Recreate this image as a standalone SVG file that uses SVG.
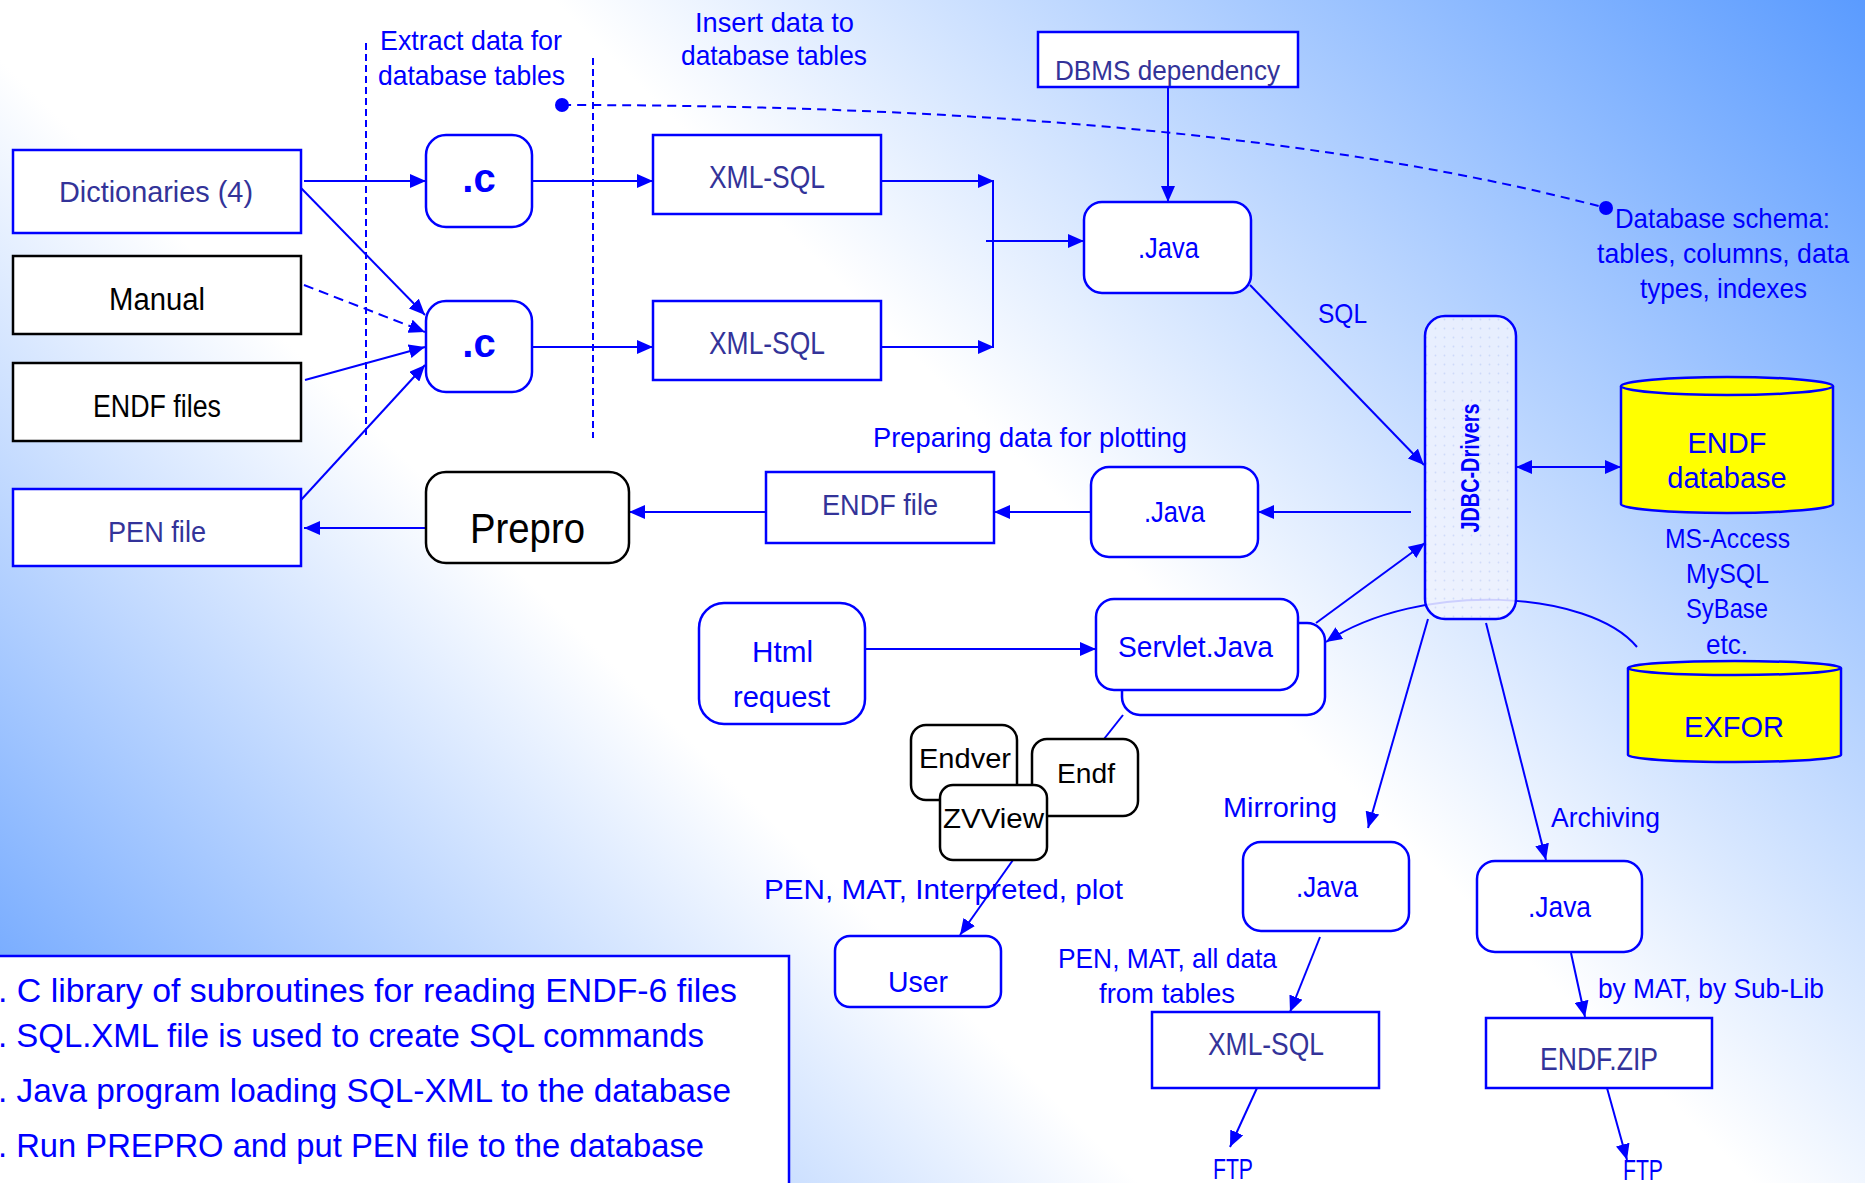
<svg xmlns="http://www.w3.org/2000/svg" width="1865" height="1183" viewBox="0 0 1865 1183">
<defs>
<linearGradient id="bg" gradientUnits="userSpaceOnUse" x1="1072" y1="-783" x2="-367" y2="676">
<stop offset="0" stop-color="#5a9bff"/>
<stop offset="0.45" stop-color="#ffffff"/>
<stop offset="0.66" stop-color="#ffffff"/>
<stop offset="1" stop-color="#6ea6ff"/>
</linearGradient>
<pattern id="dots" width="9" height="9" patternUnits="userSpaceOnUse">
<rect width="9" height="9" fill="#f0f3fe"/>
<circle cx="4.5" cy="4.5" r="0.9" fill="#d0daf8"/>
</pattern>
<marker id="ah" viewBox="0 0 16 14" refX="16" refY="7" markerWidth="16" markerHeight="14" orient="auto-start-reverse" markerUnits="userSpaceOnUse">
<path d="M0,0 L16,7 L0,14 z" fill="#0000ff"/>
</marker>
</defs>
<style>
.t{font-family:"Liberation Sans Narrow","Liberation Sans",Arial,sans-serif;}
.a{font-family:"Liberation Sans",Arial,sans-serif;}
.blue{fill:#0000ff;}
.slate{fill:#333399;}
.blk{fill:#000000;}
.bx{fill:#ffffff;stroke:#0000ff;stroke-width:2.5;}
.kx{fill:#ffffff;stroke:#000000;stroke-width:2.5;}
.cn{fill:none;stroke:#0000ff;stroke-width:2;}
.arr{marker-end:url(#ah);}
.cyl{fill:#ffff00;stroke:#0000ff;stroke-width:2.5;}
</style>
<rect x="0" y="0" width="1865" height="1183" fill="url(#bg)"/>

<g id="annotations">
<line x1="366" y1="43" x2="366" y2="438" stroke="#0000ff" stroke-width="2" stroke-dasharray="7 4"/>
<line x1="593" y1="58" x2="593" y2="438" stroke="#0000ff" stroke-width="2" stroke-dasharray="7 4"/>
<text class="t blue" x="380" y="50" font-size="28" textLength="182" lengthAdjust="spacingAndGlyphs">Extract data for</text>
<text class="t blue" x="378" y="85" font-size="28" textLength="187" lengthAdjust="spacingAndGlyphs">database tables</text>
<text class="t blue" x="695" y="32" font-size="28" textLength="159" lengthAdjust="spacingAndGlyphs">Insert data to</text>
<text class="t blue" x="681" y="65" font-size="28" textLength="186" lengthAdjust="spacingAndGlyphs">database tables</text>
<path d="M562,105 Q1216,105 1606,208" fill="none" stroke="#0000ff" stroke-width="2" stroke-dasharray="9 6"/>
<circle cx="562" cy="105" r="7" fill="#0000ff"/>
<circle cx="1606" cy="208" r="7" fill="#0000ff"/>
<text class="t blue" x="1615" y="228" font-size="28" textLength="215" lengthAdjust="spacingAndGlyphs">Database schema:</text>
<text class="t blue" x="1597" y="263" font-size="28" textLength="252" lengthAdjust="spacingAndGlyphs">tables, columns, data</text>
<text class="t blue" x="1640" y="298" font-size="28" textLength="167" lengthAdjust="spacingAndGlyphs">types, indexes</text>
<text class="t blue" x="1318" y="323" font-size="28" textLength="49" lengthAdjust="spacingAndGlyphs">SQL</text>
<text class="t blue" x="873" y="447" font-size="28" textLength="314" lengthAdjust="spacingAndGlyphs">Preparing data for plotting</text>
<text class="t blue" x="1665" y="548" font-size="28" textLength="125" lengthAdjust="spacingAndGlyphs">MS-Access</text>
<text class="t blue" x="1686" y="583" font-size="28" textLength="83" lengthAdjust="spacingAndGlyphs">MySQL</text>
<text class="t blue" x="1686" y="618" font-size="28" textLength="82" lengthAdjust="spacingAndGlyphs">SyBase</text>
<text class="t blue" x="1706" y="654" font-size="28" textLength="42" lengthAdjust="spacingAndGlyphs">etc.</text>
<text class="t blue" x="764" y="899" font-size="28" textLength="359" lengthAdjust="spacingAndGlyphs">PEN, MAT, Interpreted, plot</text>
<text class="t blue" x="1223" y="817" font-size="28" textLength="114" lengthAdjust="spacingAndGlyphs">Mirroring</text>
<text class="t blue" x="1551" y="827" font-size="28" textLength="109" lengthAdjust="spacingAndGlyphs">Archiving</text>
<text class="t blue" x="1058" y="968" font-size="28" textLength="219" lengthAdjust="spacingAndGlyphs">PEN, MAT, all data</text>
<text class="t blue" x="1099" y="1003" font-size="28" textLength="136" lengthAdjust="spacingAndGlyphs">from tables</text>
<text class="t blue" x="1598" y="998" font-size="28" textLength="226" lengthAdjust="spacingAndGlyphs">by MAT, by Sub-Lib</text>
<text class="t blue" x="1213" y="1179" font-size="29" textLength="40" lengthAdjust="spacingAndGlyphs">FTP</text>
<text class="t blue" x="1623" y="1180" font-size="29" textLength="40" lengthAdjust="spacingAndGlyphs">FTP</text>
</g>

<g id="connectors">
<path class="cn arr" d="M304,181 L426,181"/>
<path class="cn arr" d="M301,188 L425,315"/>
<path class="cn arr" d="M304,285 L425,332" stroke-dasharray="10 6"/>
<path class="cn arr" d="M305,380 L425,347"/>
<path class="cn arr" d="M301,500 L425,365"/>
<path class="cn arr" d="M532,181 L653,181"/>
<path class="cn arr" d="M532,347 L653,347"/>
<path class="cn arr" d="M881,181 L994,181"/>
<path class="cn arr" d="M881,347 L994,347"/>
<path class="cn" d="M993,181 L993,347"/>
<path class="cn arr" d="M986,241 L1084,241"/>
<path class="cn arr" d="M1168,87 L1168,202"/>
<path class="cn arr" d="M1250,285 L1424,465"/>
<path class="cn arr" d="M1411,512 L1258,512"/>
<path class="cn arr" d="M1091,512 L994,512"/>
<path class="cn arr" d="M766,512 L629,512"/>
<path class="cn arr" d="M426,528 L304,528"/>
<path class="cn arr" d="M865,649 L1096,649"/>
<path class="cn arr" d="M1316,623 L1425,543"/>
<path class="cn arr" d="M1637,647 C1590,590 1420,580 1326,642"/>
<path class="cn arr" d="M1428,619 L1368,828"/>
<path class="cn arr" d="M1486,623 L1546,860"/>
<path class="cn" d="M1123,715 L1104,739"/>
<path class="cn arr" d="M1013,860 L960,935"/>
<path class="cn arr" d="M1320,937 L1290,1012"/>
<path class="cn arr" d="M1257,1088 L1230,1147"/>
<path class="cn arr" d="M1571,953 L1585,1017"/>
<path class="cn arr" d="M1607,1088 L1627,1160"/>
<path class="cn" d="M1516,467 L1621,467" marker-start="url(#ah)" marker-end="url(#ah)"/>
</g>

<g id="dictionaries">
<rect class="bx" x="13" y="150" width="288" height="83"/>
<text class="t slate" x="59" y="202" font-size="30" textLength="194" lengthAdjust="spacingAndGlyphs">Dictionaries (4)</text>
</g>
<g id="manual">
<rect class="kx" x="13" y="256" width="288" height="78"/>
<text class="t blk" x="109" y="310" font-size="31" textLength="96" lengthAdjust="spacingAndGlyphs">Manual</text>
</g>
<g id="endf-files">
<rect class="kx" x="13" y="363" width="288" height="78"/>
<text class="t blk" x="93" y="417" font-size="31" textLength="128" lengthAdjust="spacingAndGlyphs">ENDF files</text>
</g>
<g id="pen-file">
<rect class="bx" x="13" y="489" width="288" height="77"/>
<text class="t slate" x="108" y="542" font-size="30" textLength="98" lengthAdjust="spacingAndGlyphs">PEN file</text>
</g>
<g id="c-top">
<rect class="bx" x="426" y="135" width="106" height="92" rx="20"/>
<text class="a blue" x="479" y="192" font-size="40" font-weight="bold" text-anchor="middle">.c</text>
</g>
<g id="c-bottom">
<rect class="bx" x="426" y="301" width="106" height="91" rx="20"/>
<text class="a blue" x="479" y="357" font-size="40" font-weight="bold" text-anchor="middle">.c</text>
</g>
<g id="xmlsql-top">
<rect class="bx" x="653" y="135" width="228" height="79"/>
<text class="t slate" x="709" y="188" font-size="31" textLength="116" lengthAdjust="spacingAndGlyphs">XML-SQL</text>
</g>
<g id="xmlsql-bottom">
<rect class="bx" x="653" y="301" width="228" height="79"/>
<text class="t slate" x="709" y="354" font-size="31" textLength="116" lengthAdjust="spacingAndGlyphs">XML-SQL</text>
</g>
<g id="dbms">
<rect class="bx" x="1038" y="32" width="260" height="55"/>
<text class="t slate" x="1055" y="80" font-size="28" textLength="225" lengthAdjust="spacingAndGlyphs">DBMS dependency</text>
</g>
<g id="java-load">
<rect class="bx" x="1084" y="202" width="167" height="91" rx="18"/>
<text class="t blue" x="1138" y="258" font-size="30" textLength="61" lengthAdjust="spacingAndGlyphs">.Java</text>
</g>
<g id="jdbc">
<rect x="1425" y="316" width="91" height="303" rx="20" fill="url(#dots)" fill-opacity="0.85" stroke="#0000ff" stroke-width="2.5"/>
<text class="a blue" transform="translate(1479,468) rotate(-90)" x="0" y="0" font-size="26" font-weight="bold" text-anchor="middle" textLength="129" lengthAdjust="spacingAndGlyphs">JDBC-Drivers</text>
</g>
<g id="endf-db">
<path class="cyl" d="M1621,386 L1621,504 A106,9 0 0 0 1833,504 L1833,386"/>
<ellipse class="cyl" cx="1727" cy="386" rx="106" ry="9"/>
<text class="a blue" x="1727" y="453" font-size="29" text-anchor="middle">ENDF</text>
<text class="a blue" x="1727" y="488" font-size="29" text-anchor="middle">database</text>
</g>
<g id="exfor">
<path class="cyl" d="M1628,668 L1628,755 A106.5,7 0 0 0 1841,755 L1841,668"/>
<ellipse class="cyl" cx="1734.5" cy="668" rx="106.5" ry="7"/>
<text class="a blue" x="1734" y="737" font-size="29" text-anchor="middle">EXFOR</text>
</g>
<g id="prepro">
<rect class="kx" x="426" y="472" width="203" height="91" rx="20"/>
<text class="t blk" x="470" y="543" font-size="42" textLength="115" lengthAdjust="spacingAndGlyphs">Prepro</text>
</g>
<g id="endf-file">
<rect class="bx" x="766" y="472" width="228" height="71"/>
<text class="t slate" x="822" y="515" font-size="30" textLength="116" lengthAdjust="spacingAndGlyphs">ENDF file</text>
</g>
<g id="java-plot">
<rect class="bx" x="1091" y="467" width="167" height="90" rx="18"/>
<text class="t blue" x="1144" y="522" font-size="30" textLength="61" lengthAdjust="spacingAndGlyphs">.Java</text>
</g>
<g id="html-request">
<rect class="bx" x="699" y="603" width="166" height="121" rx="25"/>
<text class="t blue" x="752" y="662" font-size="30" textLength="61" lengthAdjust="spacingAndGlyphs">Html</text>
<text class="t blue" x="733" y="707" font-size="30" textLength="97" lengthAdjust="spacingAndGlyphs">request</text>
</g>
<g id="servlet">
<rect class="bx" x="1122" y="623" width="203" height="92" rx="18"/>
<rect class="bx" x="1096" y="599" width="202" height="91" rx="18"/>
<text class="t blue" x="1118" y="657" font-size="30" textLength="155" lengthAdjust="spacingAndGlyphs">Servlet.Java</text>
</g>
<g id="endver">
<rect class="kx" x="911" y="725" width="106" height="75" rx="15"/>
<text class="t blk" x="919" y="768" font-size="28" textLength="92" lengthAdjust="spacingAndGlyphs">Endver</text>
</g>
<g id="endf">
<rect class="kx" x="1032" y="739" width="106" height="77" rx="15"/>
<text class="t blk" x="1057" y="783" font-size="28" textLength="58" lengthAdjust="spacingAndGlyphs">Endf</text>
</g>
<g id="zvview">
<rect class="kx" x="940" y="785" width="107" height="75" rx="13"/>
<text class="t blk" x="943" y="828" font-size="28" textLength="101" lengthAdjust="spacingAndGlyphs">ZVView</text>
</g>
<g id="user">
<rect class="bx" x="835" y="936" width="166" height="71" rx="15"/>
<text class="t blue" x="888" y="992" font-size="30" textLength="60" lengthAdjust="spacingAndGlyphs">User</text>
</g>
<g id="java-mirror">
<rect class="bx" x="1243" y="842" width="166" height="89" rx="18"/>
<text class="t blue" x="1296" y="897" font-size="30" textLength="62" lengthAdjust="spacingAndGlyphs">.Java</text>
</g>
<g id="java-archive">
<rect class="bx" x="1477" y="861" width="165" height="91" rx="18"/>
<text class="t blue" x="1528" y="917" font-size="30" textLength="63" lengthAdjust="spacingAndGlyphs">.Java</text>
</g>
<g id="xmlsql-mirror">
<rect class="bx" x="1152" y="1012" width="227" height="76"/>
<text class="t slate" x="1208" y="1055" font-size="31" textLength="116" lengthAdjust="spacingAndGlyphs">XML-SQL</text>
</g>
<g id="endf-zip">
<rect class="bx" x="1486" y="1018" width="226" height="70"/>
<text class="t slate" x="1540" y="1070" font-size="31" textLength="118" lengthAdjust="spacingAndGlyphs">ENDF.ZIP</text>
</g>
<g id="legend">
<rect x="-5" y="956" width="794" height="240" fill="#ffffff" stroke="#0000ff" stroke-width="2.5"/>
<text class="t blue" x="-2" y="1002" font-size="34" textLength="739" lengthAdjust="spacingAndGlyphs">. C library of subroutines for reading ENDF-6 files</text>
<text class="t blue" x="-2" y="1047" font-size="34" textLength="706" lengthAdjust="spacingAndGlyphs">. SQL.XML file is used to create SQL commands</text>
<text class="t blue" x="-2" y="1102" font-size="34" textLength="733" lengthAdjust="spacingAndGlyphs">. Java program loading SQL-XML to the database</text>
<text class="t blue" x="-2" y="1157" font-size="34" textLength="706" lengthAdjust="spacingAndGlyphs">. Run PREPRO and put PEN file to the database</text>
</g>
</svg>
